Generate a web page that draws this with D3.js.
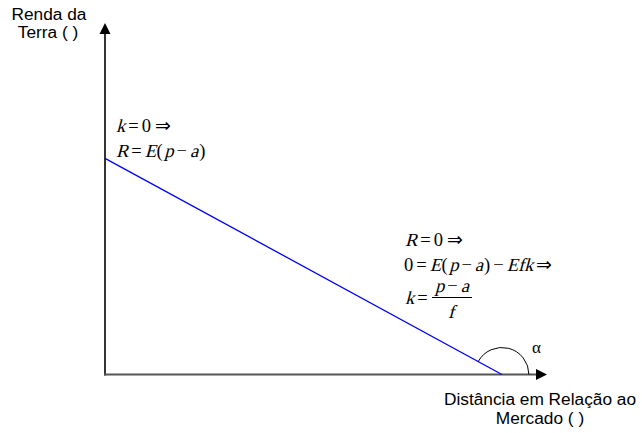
<!DOCTYPE html>
<html>
<head>
<meta charset="utf-8">
<script src="https://cdn.jsdelivr.net/npm/d3@7"></script>
<style>
  body { margin: 0; background: #fff; }
</style>
</head>
<body>
<div id="chart"></div>
<script>
// rent line: distance (k) vs land rent (R), arbitrary units
const distance = [0, 8.98];
const rent = [6.15, 0];
const axisMax = [10, 10];

const width = 642, height = 433;
const sansFont = "'Liberation Sans', Arial, sans-serif";
const serifFont = "'Liberation Serif', 'Times New Roman', serif";

const svg = d3.select("#chart").append("svg")
  .attr("width", width).attr("height", height);

const x = d3.scaleLinear().domain([0, axisMax[0]]).range([105, 547]);
const y = d3.scaleLinear().domain([0, axisMax[1]]).range([374.5, 23]);

// Axes
svg.append("line")
  .attr("x1", x(0)).attr("y1", y(0) + 1).attr("x2", x(0)).attr("y2", y(axisMax[1]) + 8)
  .attr("stroke", "#000").attr("stroke-width", 1.6);
svg.append("path")
  .attr("d", `M${x(0)},${y(axisMax[1])} l-5.5,11 l11,0 z`)
  .attr("fill", "#000");

svg.append("line")
  .attr("x1", x(0) - 1).attr("y1", y(0)).attr("x2", x(axisMax[0]) - 8).attr("y2", y(0))
  .attr("stroke", "#555").attr("stroke-width", 2);
svg.append("path")
  .attr("d", `M${x(axisMax[0])},${y(0)} l-11,-5.5 l0,11 z`)
  .attr("fill", "#000");

// Rent line
const pts = distance.map((d, i) => [d, rent[i]]);
svg.append("path")
  .datum(pts)
  .attr("d", d3.line().x(d => x(d[0])).y(d => y(d[1])))
  .attr("fill", "none")
  .attr("stroke", "#0000ff")
  .attr("stroke-width", 1.3);

// Angle arc at x intercept
const cx = x(distance[1]), cy = y(0);
const ang = Math.atan2(y(rent[0]) - cy, x(distance[0]) - cx);
const r = 27;
svg.append("path")
  .attr("d", `M${cx + r * Math.cos(ang)},${cy + r * Math.sin(ang)} A${r},${r} 0 0 1 ${cx + r},${cy}`)
  .attr("fill", "none").attr("stroke", "#000").attr("stroke-width", 1);
svg.append("text")
  .style("font-family", serifFont).style("font-size", "17px")
  .attr("x", 532).attr("y", 353).text("α");

// Axis labels
function lbl(xp, yp, s) {
  svg.append("text")
    .style("font-family", sansFont).style("font-size", "17.3px")
    .attr("x", xp).attr("y", yp)
    .attr("text-anchor", "middle").text(s);
}
lbl(49, 20, "Renda da");
lbl(48, 38, "Terra (   )");
lbl(540, 405, "Distância em Relação ao");
lbl(540, 424, "Mercado (   )");

// Equations: each piece is [text, italic, gap before]; italic drawn as skewed roman
const fs = 18.5;
function eq(xp, yp, parts) {
  let cur = xp;
  parts.forEach(p => {
    cur += p[2] || 0;
    const t = svg.append("text")
      .style("font-family", serifFont).style("font-size", fs + "px")
      .attr("transform", `translate(${cur},${yp})` + (p[1] ? " skewX(-15)" : ""))
      .text(p[0]);
    cur += t.node().getComputedTextLength();
  });
  return cur;
}
const g = 3;
eq(116, 132, [["k", 1], ["=", 0, g], ["0", 0, g], ["⇒", 0, g + 1]]);
eq(116, 157, [["R", 1], ["=", 0, g], ["E", 1, g], ["(", 0, 0.5], ["p", 1, 1.5], ["−", 0, g], ["a", 1, g], [")", 0, 1]]);
eq(405, 246, [["R", 1], ["=", 0, g], ["0", 0, g], ["⇒", 0, g + 1]]);
eq(404, 271, [["0", 0], ["=", 0, g], ["E", 1, g], ["(", 0, 0.5], ["p", 1, 1.5], ["−", 0, g], ["a", 1, g], [")", 0, 1],
  ["−", 0, g], ["Ef", 1, g], ["k", 1], ["⇒", 0, g]]);
eq(405, 304, [["k", 1], ["=", 0, g]]);
eq(435, 292, [["p", 1], ["−", 0, g], ["a", 1, g]]);
svg.append("line").attr("x1", 432).attr("x2", 472).attr("y1", 297.5).attr("y2", 297.5)
  .attr("stroke", "#000").attr("stroke-width", 1);
eq(448, 318, [["f", 1]]);
</script>
</body>
</html>
